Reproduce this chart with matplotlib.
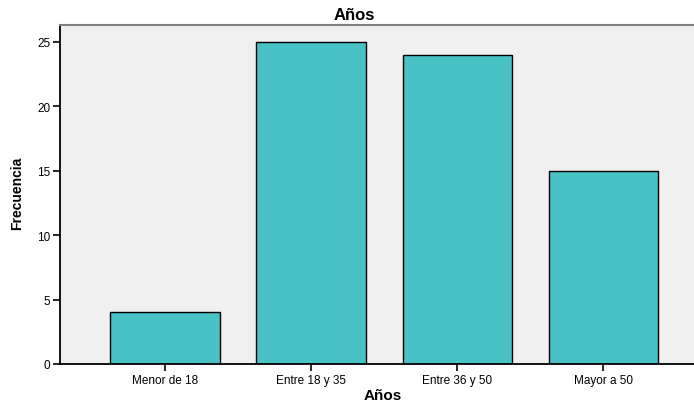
import matplotlib
matplotlib.use("Agg")
import matplotlib.pyplot as plt

categories = ["Menor de 18", "Entre 18 y 35", "Entre 36 y 50", "Mayor a 50"]
values = [4, 25, 24, 15]
yticks = [0, 5, 10, 15, 20, 25]

plt.rcParams['font.family'] = ['Liberation Sans', 'DejaVu Sans']

fig = plt.figure(figsize=(6.94, 4.02), dpi=100)
ax = fig.add_axes([60/694, 37/402, 1 - 60/694, (365-26)/402])
ax.set_facecolor('#F0F0F0')
x = list(range(len(categories)))
ax.bar(x, values, width=0.75, color='#48C2C5', edgecolor='black', linewidth=1.0, zorder=2)
ax.set_xlim(-0.72, 3.62)
ax.set_ylim(0, 26.3)
ax.set_yticks(yticks)
ax.set_xticks(x)
ax.set_xticklabels(categories)
ax.tick_params(axis='both', labelsize=8.5, length=5, width=1.2, color='black', pad=2)
ax.spines['right'].set_visible(False)
ax.spines['top'].set_color('#808080')
ax.spines['top'].set_linewidth(1.5)
ax.spines['left'].set_linewidth(1.3)
ax.spines['bottom'].set_linewidth(1.3)

fig.text(354/694, 1 - 15/402, "Años", ha='center', va='center', fontsize=12, fontweight='bold')
fig.text(383/694, 1 - 396/402, "Años", ha='center', va='center', fontsize=11, fontweight='bold')
fig.text(17/694, 1 - 193/402, "Frecuencia", ha='center', va='center', rotation=90,
         fontsize=10, fontweight='bold')

fig.savefig("out.png", dpi=100)
